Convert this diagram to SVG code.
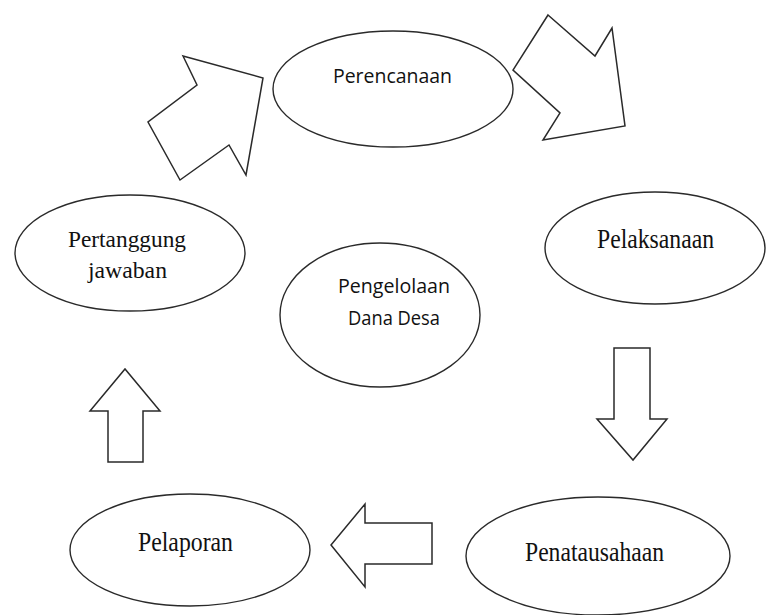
<svg xmlns="http://www.w3.org/2000/svg" width="767" height="615" viewBox="0 0 767 615">
<style>
.node{fill:#ffffff;stroke:#2a2a2a;stroke-width:1.4}
.arrow{fill:#ffffff;stroke:#2a2a2a;stroke-width:1.5;stroke-linejoin:miter}
.sans{font-family:"Open Sans","Noto Sans","Liberation Sans",sans-serif;font-size:20px;fill:#111}
.serif{font-family:"Liberation Serif","DejaVu Serif",serif;font-size:27px;fill:#111}
.serif2{font-family:"Liberation Serif","DejaVu Serif",serif;font-size:24px;fill:#111}
</style>
<rect width="767" height="615" fill="#ffffff"/>
<g id="connectors">
<polygon class="arrow" points="183,56 263,78 246,175 229,145 180,180 148,122 197,85"/>
<polygon class="arrow" points="548,15 595,56 612,28 625,126 543,140 560,113 513,70"/>
<polygon class="arrow" points="614,348 650,348 650,419 667,419 633,460 597,419 614,419"/>
<polygon class="arrow" points="432,523 432,564 365,564 365,587 331,545 365,504 365,523"/>
<polygon class="arrow" points="108,462 143,462 143,411 160,411 125,369 90,411 108,411"/>
</g>
<g id="perencanaan">
<ellipse class="node" cx="393" cy="89" rx="120" ry="58"/>
<text class="sans" x="333" y="83" textLength="119" lengthAdjust="spacingAndGlyphs">Perencanaan</text>
</g>
<g id="pelaksanaan">
<ellipse class="node" cx="655" cy="248" rx="110" ry="56"/>
<text class="serif" x="597" y="248" textLength="117" lengthAdjust="spacingAndGlyphs">Pelaksanaan</text>
</g>
<g id="penatausahaan">
<ellipse class="node" cx="598" cy="556" rx="132" ry="59"/>
<text class="serif" x="525" y="561" textLength="139" lengthAdjust="spacingAndGlyphs">Penatausahaan</text>
</g>
<g id="pelaporan">
<ellipse class="node" cx="190" cy="550" rx="120" ry="56"/>
<text class="serif" x="138" y="551" textLength="95" lengthAdjust="spacingAndGlyphs">Pelaporan</text>
</g>
<g id="pertanggungjawaban">
<ellipse class="node" cx="130" cy="253" rx="115" ry="58"/>
<text class="serif2" x="68" y="247" textLength="118" lengthAdjust="spacingAndGlyphs">Pertanggung</text>
<text class="serif2" x="88" y="278" textLength="79" lengthAdjust="spacingAndGlyphs">jawaban</text>
</g>
<g id="pengelolaan">
<ellipse class="node" cx="380" cy="315" rx="100" ry="72"/>
<text class="sans" x="338" y="293" textLength="112" lengthAdjust="spacingAndGlyphs">Pengelolaan</text>
<text class="sans" x="348" y="325" textLength="92" lengthAdjust="spacingAndGlyphs">Dana Desa</text>
</g>
</svg>
